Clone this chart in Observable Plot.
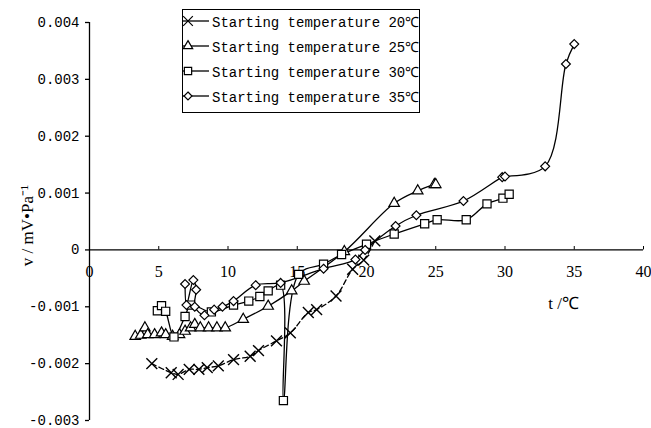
<!DOCTYPE html>
<html><head><meta charset="utf-8">
<script src="https://cdn.jsdelivr.net/npm/d3@7"></script>
<script src="https://cdn.jsdelivr.net/npm/@observablehq/plot@0.6"></script>
<style>
body{margin:0;background:#fff;}
#wrap{position:relative;width:651px;height:428px;}
#legend{position:absolute;left:182px;top:9px;width:238px;height:104px;border:1.3px solid #000;background:#fff;box-sizing:border-box;font-family:"Liberation Mono",monospace;font-size:14px;color:#000;}
.row{position:absolute;left:0;height:24px;display:flex;align-items:center;white-space:nowrap;}
.row svg{display:block;}
</style></head><body><div id="wrap"></div>
<script>
// Series: t (°C) and v (mV·Pa^-1)
const t20 = [4.5, 5.9, 6.4, 7.2, 7.9, 8.5, 9.3, 10.4, 11.6, 12.2, 13.5, 14.5, 15.8, 16.4, 17.8, 19.0, 19.8, 20.6];
const v20 = [-0.00200, -0.00216, -0.00219, -0.00210, -0.00210, -0.00207, -0.00204, -0.00193, -0.00187, -0.00177, -0.00160, -0.00146, -0.00110, -0.00105, -0.00081, -0.00034, -0.00018, 0.00016];

const t25 = [3.3, 3.7, 4.0, 4.2, 4.7, 5.2, 5.5, 6.0, 6.5, 6.9, 7.3, 7.6, 8.0, 8.6, 9.2, 9.8, 11.1, 12.9, 14.6, 15.5, 18.4, 22.0, 23.7, 24.9, 25.0];
const v25 = [-0.00152, -0.00150, -0.00137, -0.00149, -0.00149, -0.00146, -0.00149, -0.00152, -0.00149, -0.00143, -0.00137, -0.00131, -0.00137, -0.00137, -0.00137, -0.00137, -0.00122, -0.00099, -0.00072, -0.00055, -0.00003, 0.00082, 0.00104, 0.00115, 0.00115];

const t30 = [4.9, 5.2, 5.5, 6.1, 6.9, 7.3, 8.8, 10.4, 11.5, 12.3, 12.9, 13.8, 14.0, 15.1, 16.9, 18.2, 20.0, 22.0, 24.2, 25.1, 27.2, 28.7, 29.85, 30.3];
const v30 = [-0.00107, -0.00098, -0.00108, -0.00153, -0.00117, -0.00097, -0.00109, -0.00097, -0.00090, -0.00082, -0.00072, -0.00062, -0.00265, -0.00043, -0.00025, -0.00008, 0.00010, 0.00028, 0.00046, 0.00053, 0.00053, 0.00081, 0.00091, 0.00098];

const t35 = [6.9, 7.0, 7.5, 7.7, 7.6, 8.3, 9.0, 9.6, 10.4, 12.0, 13.8, 16.9, 19.2, 19.9, 22.1, 23.6, 27.0, 29.8, 30.0, 32.9, 34.4, 35.0];
const v35 = [-0.00060, -0.00097, -0.00053, -0.00070, -0.00100, -0.00115, -0.00105, -0.00100, -0.00090, -0.00062, -0.00058, -0.00033, -0.00017, 0.00000, 0.00042, 0.00061, 0.00086, 0.00128, 0.00129, 0.00147, 0.00327, 0.00362];

const seriesNames = ["Starting temperature 20℃", "Starting temperature 25℃", "Starting temperature 30℃", "Starting temperature 35℃"];
const xTicks = [0, 5, 10, 15, 20, 25, 30, 35, 40];
const yTicks = [-0.003, -0.002, -0.001, 0, 0.001, 0.002, 0.003, 0.004];
const yLabel = "v / mV•Pa⁻¹";
const xLabel = "t /℃";

const styles = [
  {symbol: "times", r: 5, fill: "none", dash: "5,3", sw: 1.4},
  {symbol: "triangle", r: 3.9, fill: "white", dash: null, sw: 1.2},
  {symbol: "square", r: 4.6, fill: "white", dash: null, sw: 1.2},
  {symbol: "diamond2", r: 4.0, fill: "white", dash: null, sw: 1.2}
];

const ts = [t20, t25, t30, t35], vs = [v20, v25, v30, v35];
const series = ts.map((t, i) => t.map((x, j) => ({t: x, v: vs[i][j], s: seriesNames[i]})));

const marks = [
  Plot.ruleY([0], {stroke: "#000", strokeWidth: 1.3}),
  Plot.ruleX([0], {stroke: "#000", strokeWidth: 1.3}),
  Plot.ruleX(xTicks.slice(1), {x: d => d, y1: 0, y2: 0.00006, stroke: "#000", strokeWidth: 1}),
  Plot.text(xTicks, {x: d => d, y: 0, dy: 22, text: d => String(d), fontFamily: "Liberation Serif", fontSize: 16, fill: "#000"}),
  Plot.axisY(yTicks, {label: null, tickSize: 4, tickPadding: 6, tickFormat: d => d === 0 ? "0" : d.toFixed(3), fontSize: 14, stroke: "#000", strokeWidth: 1.3}),
  Plot.text([yLabel], {frameAnchor: "left", textAnchor: "middle", dx: -62, dy: 4, rotate: -90, fontFamily: "Liberation Serif", fontSize: 17, fill: "#000"}),
  Plot.text([xLabel], {frameAnchor: "right", textAnchor: "middle", dx: -80, dy: 82, fontFamily: "Liberation Serif", fontSize: 17, fill: "#000"})
];
series.forEach((d, i) => {
  const st = styles[i];
  marks.push(Plot.line(d, {x: "t", y: "v", curve: "catmull-rom", stroke: "#000", strokeWidth: 1.3, strokeDasharray: st.dash}));
});
series.forEach((d, i) => {
  const st = styles[i];
  marks.push(Plot.dot(d, {x: "t", y: "v", symbol: () => st.symbol, r: st.r, stroke: "#000", strokeWidth: st.sw, fill: st.fill}));
});

const chart = Plot.plot({
  width: 651, height: 428,
  marginLeft: 89, marginRight: 8, marginTop: 22, marginBottom: 8,
  x: {domain: [0, 40], axis: null},
  y: {domain: [-0.003, 0.004], axis: null},
  symbol: {type: "identity"},
  style: {fontFamily: "Liberation Mono", fontSize: "14px", color: "#000", background: "#fff"},
  marks
});
const wrap = document.getElementById("wrap");
wrap.appendChild(chart);

// Legend overlay
const leg = document.createElement("div");
leg.id = "legend";
const symMap = {times: d3.symbolTimes, triangle: d3.symbolTriangle, square: d3.symbolSquare, diamond2: d3.symbolDiamond2};
seriesNames.forEach((name, i) => {
  const st = styles[i];
  const row = document.createElement("div");
  row.className = "row";
  row.style.top = (i * 25 - 1) + "px";
  const svg = d3.create("svg").attr("width", 28).attr("height", 24);
  svg.append("line").attr("x1", 0).attr("x2", 26).attr("y1", 12).attr("y2", 12).attr("stroke", "#000").attr("stroke-width", 1.3);
  svg.append("path").attr("transform", "translate(5,12)")
    .attr("d", d3.symbol(symMap[st.symbol], Math.PI * st.r * st.r * 0.8)())
    .attr("fill", st.fill === "none" ? "none" : "white").attr("stroke", "#000").attr("stroke-width", 1.2);
  row.appendChild(svg.node());
  const span = document.createElement("span");
  span.textContent = name;
  span.style.marginLeft = "1px";
  row.appendChild(span);
  leg.appendChild(row);
});
wrap.appendChild(leg);
</script></body></html>
